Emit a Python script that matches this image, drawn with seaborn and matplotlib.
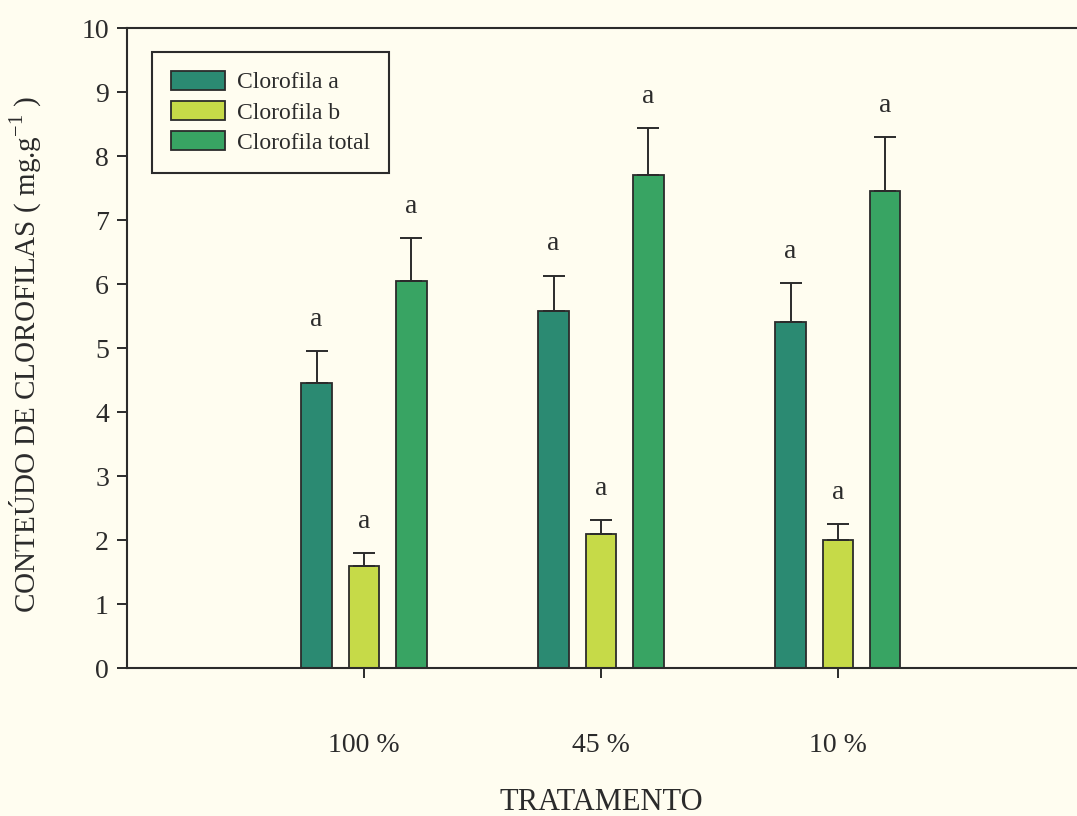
import numpy as np
import pandas as pd
import matplotlib
matplotlib.use("Agg")
import matplotlib.pyplot as plt
import seaborn as sns

# Chlorophyll content per treatment (mg.g-1): means and upper error bars
tratamentos = ["100 %", "45 %", "10 %"]
pigmentos = ["Clorofila a", "Clorofila b", "Clorofila total"]
clorofila_a = [4.45, 5.58, 5.40]
clorofila_a_err = [0.50, 0.55, 0.62]
clorofila_b = [1.60, 2.10, 2.00]
clorofila_b_err = [0.19, 0.21, 0.25]
clorofila_total = [6.05, 7.70, 7.46]
clorofila_total_err = [0.67, 0.74, 0.83]
letras_a = ["a", "a", "a"]
letras_b = ["a", "a", "a"]
letras_total = ["a", "a", "a"]
y_ticks = [0, 1, 2, 3, 4, 5, 6, 7, 8, 9, 10]

medias = [clorofila_a, clorofila_b, clorofila_total]
erros = [clorofila_a_err, clorofila_b_err, clorofila_total_err]
letras = [letras_a, letras_b, letras_total]

df = pd.DataFrame({
    "Tratamento": np.tile(tratamentos, len(pigmentos)),
    "Pigmento": np.repeat(pigmentos, len(tratamentos)),
    "valor": np.concatenate(medias),
})

sns.set_theme(style="white")
plt.rcParams["font.family"] = ["Liberation Serif", "DejaVu Serif"]
plt.rcParams["mathtext.fontset"] = "custom"
plt.rcParams["mathtext.rm"] = "Liberation Serif"

bg = "#fffdf0"
ink = "#2b2b2b"
cores = ["#2b8a72", "#c6da48", "#38a463"]

fig = plt.figure(figsize=(10.77, 8.16), dpi=100, facecolor=bg)
ax = fig.add_axes([127 / 1077, 148 / 816, 955 / 1077, 640 / 816])
ax.set_facecolor(bg)

sns.barplot(
    data=df, x="Tratamento", y="valor", hue="Pigmento",
    order=tratamentos, hue_order=pigmentos, palette=cores, saturation=1,
    width=0.6, gap=0.36, errorbar=None,
    edgecolor=ink, linewidth=1.3, ax=ax,
)

# upper-only error bars and significance letters on each bar
for cont, err, let in zip(ax.containers, erros, letras):
    xs = [p.get_x() + p.get_width() / 2 for p in cont]
    ys = [p.get_height() for p in cont]
    ax.errorbar(xs, ys, yerr=[np.zeros(len(err)), err], fmt="none",
                ecolor=ink, elinewidth=1.4, capsize=8, capthick=1.4, zorder=3)
    for x, y, e, t in zip(xs, ys, err, let):
        ax.text(x, y + e + 0.3, t, ha="center", va="bottom",
                fontsize=20, color=ink)

ax.set_xlim(-1, 3.03)
ax.set_ylim(0, 10)
ax.set_yticks(y_ticks)
ax.set_yticklabels([str(v) for v in y_ticks])

for side in ["left", "bottom", "top"]:
    ax.spines[side].set_visible(True)
    ax.spines[side].set_color(ink)
    ax.spines[side].set_linewidth(1.5)
ax.spines["right"].set_visible(False)

ax.tick_params(axis="y", direction="out", length=7, width=1.4, color=ink,
               labelsize=20, labelcolor=ink, pad=6, left=True)
ax.tick_params(axis="x", direction="out", length=7, width=1.4, color=ink,
               labelsize=20, labelcolor=ink, pad=40, bottom=True)

ax.set_xlabel("TRATAMENTO", fontsize=22, color=ink)
ax.xaxis.set_label_coords(0.497, -0.188)
ax.set_ylabel(r"CONTEÚDO DE CLOROFILAS ( mg.g$^{\mathregular{-1}}$ )",
              fontsize=21, color=ink)
ax.yaxis.set_label_coords(-0.088, 0.49)

leg = ax.legend(
    loc="upper left", bbox_to_anchor=(0.026, 0.9625), borderaxespad=0,
    title=None, fontsize=17, frameon=True, fancybox=False,
    edgecolor=ink, facecolor=bg, framealpha=1,
    handlelength=2.3, handleheight=0.85, handletextpad=0.5,
    labelspacing=0.32, borderpad=0.8,
)
leg.get_frame().set_linewidth(1.5)
for t in leg.get_texts():
    t.set_color(ink)

fig.savefig("out.png", dpi=100, facecolor=bg)
